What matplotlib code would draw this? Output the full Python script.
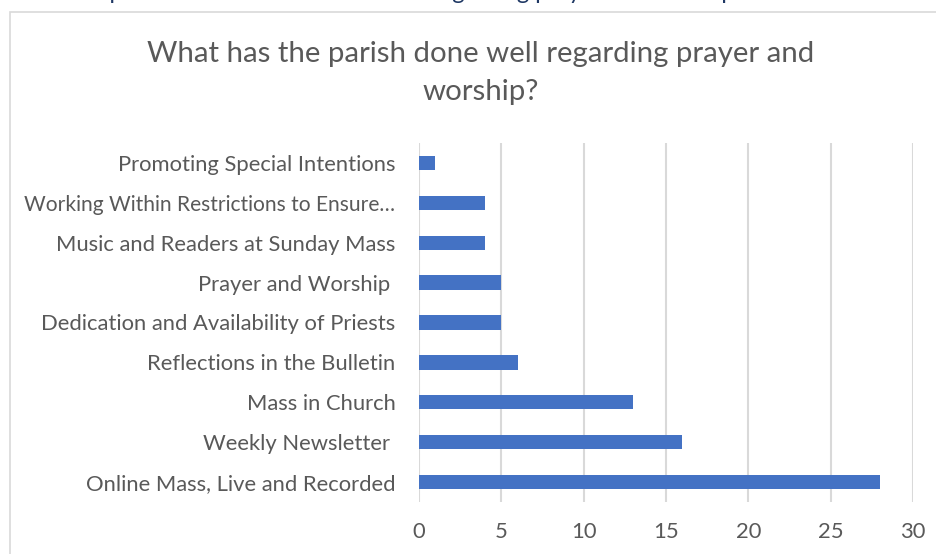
import matplotlib as mpl
mpl.use('Agg')
import matplotlib.pyplot as plt
from matplotlib.patches import Rectangle

# data, bottom to top as drawn
categories = [
    "Online Mass, Live and Recorded",
    "Weekly Newsletter ",
    "Mass in Church",
    "Reflections in the Bulletin",
    "Dedication and Availability of Priests",
    "Prayer and Worship ",
    "Music and Readers at Sunday Mass",
    "Working Within Restrictions to Ensure\u2026",
    "Promoting Special Intentions",
]
counts = [28, 16, 13, 6, 5, 5, 4, 4, 1]
x_ticks = [0, 5, 10, 15, 20, 25, 30]

title = "What has the parish done well regarding prayer and\nworship?"
caption = "Responses on what was done well regarding prayer and worship"

BAR = "#4472C4"
GRID = "#D9D9D9"
TEXT = "#595959"
FONT = ["Lato", "DejaVu Sans"]

fig = plt.figure(figsize=(9.37, 5.54), dpi=100)

# caption above the chart frame, cropped in the source so only descenders show
fig.text(0.43, 1.0 + 1 / 554, caption, ha="center", va="baseline",
         fontsize=17, color="#1F3864", family=FONT)

# chart frame
fig.patches.append(Rectangle((10 / 937, -0.1), 1.0, 1.1 - 12 / 554,
                             transform=fig.transFigure, fill=False,
                             edgecolor=GRID, linewidth=1.2))

fig.text(481 / 937, 1 - 73 / 554, title, ha="center", va="center",
         fontsize=21.2, color=TEXT, family=FONT, linespacing=1.6)

ax = fig.add_axes([419 / 937, 1 - 502 / 554, (913 - 419) / 937, (502 - 143) / 554])
pos = list(range(len(categories)))
ax.barh(pos, counts, height=0.36, color=BAR, zorder=3)

ax.set_xlim(0, 30)
ax.set_ylim(-0.5, len(categories) - 0.5)
ax.set_xticks(x_ticks)
ax.set_yticks(pos)
ax.set_yticklabels(categories)
ax.xaxis.grid(True, color=GRID, linewidth=1.5, zorder=0)
for s in ax.spines.values():
    s.set_visible(False)
ax.tick_params(axis="both", length=0, labelsize=15.8, labelcolor=TEXT)
ax.tick_params(axis="y", pad=17)
ax.tick_params(axis="x", pad=14.5)
for lbl in ax.get_xticklabels() + ax.get_yticklabels():
    lbl.set_family(FONT)
# the truncated label runs wider in Lato than in the source font
ax.get_yticklabels()[7].set_fontsize(15.1)

fig.savefig("out.png", dpi=100)
